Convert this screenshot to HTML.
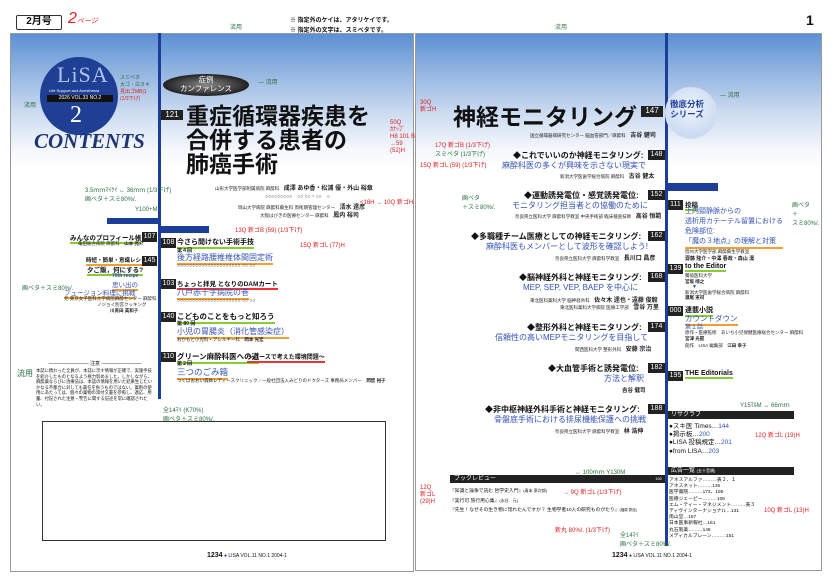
<!DOCTYPE html>
<html><head><meta charset="utf-8"><style>
*{margin:0;padding:0;box-sizing:border-box}
body{width:835px;height:580px;background:#fff;position:relative;overflow:hidden;font-family:"Liberation Sans","Noto Sans CJK JP",sans-serif;color:#111}
.a{position:absolute;white-space:nowrap}
.pg{position:absolute;border:1px solid #999;background:linear-gradient(#5b8fd4 0px,#8fb2e0 35px,#cddcf1 80px,#f4f7fc 115px,#fff 135px)}
.num{position:absolute;background:#222;color:#fff;font-size:7px;text-align:center;line-height:10px;height:10px}
.b{font-weight:bold}
.blue{color:#3452b8}
.red{color:#d22;font-size:6px}
.grn{color:#2a7040;font-size:6px}
.sm{font-size:4.5px;color:#222}
.ul-g{border-bottom:2px solid #8c3}
.ul-o{border-bottom:2px solid #f0a030}
.ul-r{border-bottom:2px solid #e33}
</style></head><body>
<div class="a b" style="left:16px;top:15px;width:46px;height:15px;border:1.5px solid #333;border-radius:2px;font-size:10px;text-align:center;line-height:12px">2月号</div>
<div class="a" style="left:68px;top:10px;font-size:16px;color:#d22;font-style:italic">2<span style="font-size:7px">ページ</span></div>
<div class="a b" style="left:290px;top:16px;font-size:6px;line-height:10px">※ 指定外のケイは、アタリケイです。<br>※ 指定外の文字は、スミベタです。</div>
<div class="a b" style="left:806px;top:12px;font-size:14px">1</div>

<div class="pg" style="left:10px;top:33px;width:404px;height:539px"></div>
<div class="pg" style="left:415px;top:33px;width:407px;height:538px"></div>

<!-- left page -->
<div class="a" style="left:158px;top:33px;width:3px;height:366px;background:#1c3e99"></div>
<div class="a" style="left:40px;top:57px;width:78px;height:78px;border-radius:50%;background:#1f3f95"></div>
<div class="a" style="left:57px;top:62px;font-size:22px;color:#aec4ea;font-family:'Liberation Serif',serif;letter-spacing:1px">LiSA</div>
<div class="a" style="left:49px;top:88px;font-size:4px;color:#fff">Life Support and Anesthesia</div>
<div class="a" style="left:47px;top:95px;width:66px;height:7px;background:#111;color:#fff;font-size:5px;text-align:center;line-height:7px">2026 VOL.33 NO.2</div>
<div class="a" style="left:70px;top:102px;font-size:24px;color:#fff;font-family:'Liberation Serif',serif">2</div>
<div class="a b" style="left:34px;top:129px;font-size:21px;color:#1f3470;font-style:italic;font-family:'Liberation Serif',serif">CONTENTS</div>
<div class="a" style="left:163px;top:74px;width:86px;height:22px;border-radius:50%;background:radial-gradient(#888,#222 70%);color:#fff;font-size:7.5px;text-align:center;line-height:8.5px;padding-top:2px">症例<br>カンファレンス</div>
<div class="num" style="left:161px;top:110px;width:22px;font-size:8px">121</div>
<div class="a b" style="left:186px;top:104px;font-size:23px;line-height:24px;letter-spacing:0px">重症循環器疾患を<br>合併する患者の<br>肺癌手術</div>
<div class="a sm" style="left:215px;top:183px">山形大学医学部附属病院 麻酔科　<b style="font-size:6px">成澤 あゆ香・松浦 優・外山 裕章</b></div>
<div class="a sm" style="left:265px;top:193px;font-size:5px">○○○○○○○○○　○○ ○○・○○　○</div>
<div class="a sm" style="left:238px;top:202px">岡山大学病院 麻酔科蘇生科 周術期管理センター　<b style="font-size:6px">清水 達彦</b></div>
<div class="a sm" style="left:260px;top:210px">大阪はびきの医療センター 麻酔科　<b style="font-size:6px">鳳内 裕司</b></div>
<div class="a" style="left:107px;top:218px;width:51px;height:6px;background:#1c3e99"></div>
<div class="a" style="left:160px;top:226px;width:49px;height:7px;background:#1c3e99"></div>

<div class="a b ul-g" style="left:70px;top:232px;font-size:6.5px">みんなのプロフィール帳</div>
<div class="num" style="left:142px;top:232px;width:15px">107</div>
<div class="a sm" style="left:78px;top:241px">亀田総合病院 麻酔科　<b>山本 亮介</b></div>
<div class="a b ul-o" style="left:86px;top:256px;font-size:5.5px">時短・簡単・意識レシピ</div>
<div class="num" style="left:142px;top:256px;width:15px">145</div>
<div class="a b ul-g" style="left:87px;top:264px;font-size:6.5px">夕ご飯，何にする?</div>
<div class="a b blue" style="left:112px;top:273px;font-size:5px">70th recipe</div>
<div class="a blue ul-o" style="left:112px;top:279px;font-size:6.5px">思い出の</div>
<div class="a blue ul-o" style="left:64px;top:287px;font-size:6.5px">フュージョン料理に挑戦</div>
<div class="a sm" style="left:64px;top:296px">元 東京女子医科大学病院麻酔センター 麻酔科</div>
<div class="a sm" style="left:97px;top:302px">ノジョイ別宮クッキング</div>
<div class="a sm b" style="left:110px;top:308px">川眞田 美和子</div>

<div class="num" style="left:161px;top:238px;width:15px">108</div>
<div class="a b ul-g" style="left:177px;top:237px;font-size:7px">今さら聞けない手術手技</div>
<div class="a sm b" style="left:177px;top:247px;font-size:5px">第４回</div>
<div class="a blue ul-o" style="left:177px;top:252px;font-size:8px">後方経路腰椎椎体間固定術</div>
<div class="a" style="left:177px;top:263px;font-size:5px">○○○○○○○○○○○○○○○○○○○○○ ○○ ○○</div>
<div class="num" style="left:161px;top:279px;width:15px">103</div>
<div class="a b ul-r" style="left:177px;top:278px;font-size:6.5px">ちょっと拝見 となりのDAMカート</div>
<div class="a blue ul-o" style="left:177px;top:287px;font-size:8px">八戸赤十字病院の巻</div>
<div class="a" style="left:177px;top:298px;font-size:5px">○○○○○○○○○○○○○○○○○○○○○ ○○ ○○</div>
<div class="num" style="left:161px;top:312px;width:15px">140</div>
<div class="a b ul-g" style="left:177px;top:311px;font-size:7.5px">こどものことをもっと知ろう</div>
<div class="a sm b" style="left:177px;top:320px;font-size:5px">第 80 回</div>
<div class="a blue ul-o" style="left:177px;top:326px;font-size:8px">小児の胃腸炎（消化管感染症）</div>
<div class="a sm" style="left:177px;top:337px">おかもと小児科・アレルギー科　<b>岡本 光宏</b></div>
<div class="num" style="left:161px;top:352px;width:15px">110</div>
<div class="a b ul-g" style="left:177px;top:351px;font-size:7.5px">グリーン麻酔科医への道</div>
<div class="a b ul-r" style="left:247px;top:352px;font-size:6px">～パースで考えた環境問題～</div>
<div class="a sm b" style="left:177px;top:360px;font-size:5px">第２回</div>
<div class="a blue ul-o" style="left:177px;top:366px;font-size:8.5px">三つのごみ箱</div>
<div class="a sm" style="left:177px;top:378px">つくばおおい森鉢レディースクリニック／一般社団法人みどりのドクターズ 事務局メンバー　<b>岡留 裕子</b></div>

<div class="a" style="left:37px;top:360px;width:116px;text-align:center;font-size:5px">―――――――― 注意 ――――――――</div>
<div class="a" style="left:36px;top:368px;width:117px;white-space:normal;font-size:4.3px;line-height:5.6px">本誌に携わった全員が、本誌に示す情報が正確で、実施手技を紹介したものとなるよう極力努めました。しかしながら、麻酔薬ならびに治療法は、本誌の情報を用いた結果生じたいかなる不都合に対しても責任を負うものではない。薬剤の使用にあたっては、個々の薬物の添付文書を参照し、適応、用量、付記された注意・警告に関する記述を常に確認されたい。</div>

<div class="a" style="left:42px;top:421px;width:344px;height:120px;border:1.5px solid #333"></div>
<div class="a" style="left:207px;top:552px;font-size:5px"><b style="font-size:7px">1234</b> <span style="color:#1c3e99">●</span> LISA VOL.11 NO.1 2004-1</div>

<!-- right page -->
<div class="a" style="left:665px;top:33px;width:3px;height:513px;background:#1c3e99"></div>
<div class="a b" style="left:453px;top:98px;font-size:23px;letter-spacing:0px">神経モニタリング</div>
<div class="num" style="left:641px;top:106px;width:22px;font-size:8px;height:11px">147</div>
<div class="a" style="left:665px;top:87px;width:52px;height:52px;border-radius:50%;background:radial-gradient(circle at 50% 40%,#eef4fc,#bcd2ee);border:1px solid #dde"></div>
<div class="a b blue" style="left:670px;top:99px;font-size:8.5px;line-height:10px;text-align:center;color:#2440a0">徹底分析<br>シリーズ</div>
<div class="a sm" style="left:530px;top:130px">国立循環器病研究センター 脳血管部門／麻酔科　<b style="font-size:6px">吉谷 健司</b></div>

<div class="a b" style="left:513px;top:150px;font-size:8px">◆これでいいのか神経モニタリング:</div>
<div class="num" style="left:648px;top:150px;width:17px">148</div>
<div class="a blue" style="left:502px;top:160px;font-size:8px">麻酔科医の多くが興味を示さない現実で</div>
<div class="a sm" style="left:560px;top:171px">新潟大学医歯学総合病院 麻酔科　<b style="font-size:6px">古谷 健太</b></div>
<div class="a b" style="left:524px;top:190px;font-size:8px">◆運動誘発電位・感覚誘発電位:</div>
<div class="num" style="left:648px;top:190px;width:17px">152</div>
<div class="a blue" style="left:512px;top:200px;font-size:8px">モニタリング担当者との協働のために</div>
<div class="a sm" style="left:515px;top:211px">奈良県立医科大学 麻酔科学教室 中央手術部 臨床検査技師　<b style="font-size:6px">高谷 恒範</b></div>
<div class="a b" style="left:471px;top:231px;font-size:8px">◆多職種チーム医療としての神経モニタリング:</div>
<div class="num" style="left:648px;top:231px;width:17px">162</div>
<div class="a blue" style="left:486px;top:241px;font-size:8px">麻酔科医もメンバーとして波形を確認しよう!</div>
<div class="a sm" style="left:555px;top:253px">奈良県立医科大学 麻酔科学教室　<b style="font-size:6px">長川口 昌彦</b></div>
<div class="a b" style="left:519px;top:272px;font-size:8px">◆脳神経外科と神経モニタリング:</div>
<div class="num" style="left:648px;top:272px;width:17px">168</div>
<div class="a blue" style="left:523px;top:282px;font-size:8px">MEP, SEP, VEP, BAEP を中心に</div>
<div class="a sm" style="left:530px;top:295px">東北医科薬科大学 脳神経外科　<b style="font-size:6px">佐々木 達也・遠藤 俊毅</b></div>
<div class="a sm" style="left:560px;top:302px">東北医科薬科大学病院 医療工学部　<b style="font-size:6px">雪谷 万里</b></div>
<div class="a b" style="left:527px;top:322px;font-size:8px">◆整形外科と神経モニタリング:</div>
<div class="num" style="left:648px;top:322px;width:17px">174</div>
<div class="a blue" style="left:495px;top:332px;font-size:8px">信頼性の高いMEPモニタリングを目指して</div>
<div class="a sm" style="left:575px;top:344px">関西医科大学 整形外科　<b style="font-size:6px">安藤 宗治</b></div>
<div class="a b" style="left:548px;top:363px;font-size:8px">◆大血管手術と誘発電位:</div>
<div class="num" style="left:648px;top:363px;width:17px">182</div>
<div class="a blue" style="left:604px;top:373px;font-size:8px">方法と解釈</div>
<div class="a sm b" style="left:622px;top:386px;font-size:5.5px">吉谷 健司</div>
<div class="a b" style="left:485px;top:404px;font-size:8px">◆非中枢神経外科手術と神経モニタリング:</div>
<div class="num" style="left:648px;top:404px;width:17px">188</div>
<div class="a blue" style="left:494px;top:414px;font-size:8px">骨盤底手術における排尿機能保護への挑戦</div>
<div class="a sm" style="left:555px;top:426px">奈良県立医科大学 麻酔科学教室　<b style="font-size:6px">林 浩伸</b></div>

<div class="a" style="left:668px;top:183px;width:50px;height:8px;background:#1c3e99"></div>
<div class="num" style="left:668px;top:200px;width:15px">111</div>
<div class="a b ul-g" style="left:685px;top:199px;font-size:6.5px">投稿</div>
<div class="a blue ul-o" style="left:685px;top:207px;font-size:7px;line-height:10px">上内頸静脈からの<br>透析用カテーテル留置における<br>危険部位:<br>「魔の３地点」の理解と対策</div>
<div class="a sm" style="left:685px;top:249px">信州大学医学部 麻酔蘇生学教室</div>
<div class="a sm b" style="left:685px;top:255px;font-size:5px">齋藤 隆介・中澤 春政・森山 潔</div>
<div class="num" style="left:668px;top:264px;width:15px">139</div>
<div class="a b ul-g" style="left:685px;top:263px;font-size:7px">to the Editor</div>
<div class="a sm" style="left:685px;top:273px">獨協医科大学</div>
<div class="a sm b" style="left:685px;top:279px">宮坂 晴之</div>
<div class="a" style="left:692px;top:284px;font-size:5px;color:#2440a0">▼</div>
<div class="a sm" style="left:685px;top:290px">新潟大学医歯学総合病院 麻酔科</div>
<div class="a sm b" style="left:685px;top:295px">瀬尾 憲司</div>
<div class="num" style="left:668px;top:306px;width:15px">000</div>
<div class="a b ul-g" style="left:685px;top:305px;font-size:7px">連載小説</div>
<div class="a blue ul-o" style="left:685px;top:313px;font-size:7.5px">カウントダウン</div>
<div class="a blue" style="left:685px;top:322px;font-size:6px">第１話</div>
<div class="a sm" style="left:685px;top:330px">原作・医療監修　あいち小児保健医療総合センター 麻酔科</div>
<div class="a sm b" style="left:685px;top:336px">宮津 光範</div>
<div class="a sm" style="left:685px;top:343px">創作　LISA 編集部　<b>江田 幸子</b></div>
<div class="num" style="left:668px;top:371px;width:15px">195</div>
<div class="a b ul-g" style="left:685px;top:370px;font-size:7px">THE Editorials</div>

<div class="a" style="left:668px;top:411px;width:126px;height:8px;background:#222;color:#fff;font-size:6px;line-height:8px;padding-left:3px">リサクラブ</div>
<div class="a" style="left:669px;top:423px;font-size:6.5px;line-height:8.2px">●スキ医 Times…<span class="blue">144</span><br>●掲示板…<span class="blue">200</span><br>●LISA 投稿規定…<span class="blue">201</span><br>●from LISA…<span class="blue">203</span></div>
<div class="a" style="left:668px;top:467px;width:126px;height:8px;background:#222;color:#fff;font-size:6px;line-height:8px;padding-left:3px">広告一覧 <span style="font-size:4px">(五十音順)</span></div>
<div class="a" style="left:669px;top:478px;font-size:4.8px;line-height:6.2px">アネスアルファ………表２、１<br>アネスネット………135<br>医学書院………173、195<br>医療ジェーピー………106<br>エム・ティー・マネジメント………表３<br>ディヴインターナショナル…131<br>南山堂…167<br>日本医事新報社…161<br>丸石製薬………148<br>メディカルブレーン………151</div>

<div class="a" style="left:450px;top:475px;width:215px;height:8px;background:#222;color:#fff;font-size:6px;line-height:8px;padding-left:4px">ブックレビュー<span style="position:absolute;right:3px;font-size:4px">192</span></div>
<div class="a" style="left:450px;top:486px;font-size:4.8px;line-height:9px">『知識と論争で読む 哲学史入門』<span style="font-size:4px">(青本 泰次郎)</span><br>『実行可 旅行用心集』<span style="font-size:4px">(水谷　元)</span><br>『先生！なぜその生き物に惚れたんですか？ 生物学者10人の研究ものがたり』<span style="font-size:3.5px">(福原 秀浩)</span></div>
<div class="a" style="left:612px;top:552px;font-size:5px"><b style="font-size:7px">1234</b> <span style="color:#1c3e99">●</span> LISA VOL.11 NO.1 2004-1</div>

<!-- annotations -->
<div class="a grn" style="left:230px;top:22px">流用</div>
<div class="a grn" style="left:555px;top:22px">流用</div>
<div class="a grn" style="left:258px;top:77px">― 流用</div>
<div class="a grn" style="left:720px;top:90px">― 流用</div>
<div class="a grn" style="left:24px;top:100px">流用</div>
<div class="a" style="left:120px;top:75px;font-size:5px;line-height:7px;color:#2a7040">スミベタ<br>太ゴ・白ヌキ<br><span style="color:#d22">見出ゴMB|1<br>(1/3下げ)</span></div>
<div class="a red" style="left:390px;top:120px;line-height:7px">50Q<br>ｶﾅｯﾌﾟ<br>H8 101 B<br>→59<br>(52)H</div>
<div class="a red" style="left:420px;top:100px;line-height:7px">30Q<br>新ゴH</div>
<div class="a grn" style="left:85px;top:185px">3.5ｍｍﾏｲｹｲ ↔ 36ｍｍ (1/3下げ)<br>画ベタ＋スミ80%/.</div>
<div class="a grn" style="left:135px;top:207px">Y100+M</div>
<div class="a grn" style="left:22px;top:283px">画ベタ＋スミ80%/.</div>
<div class="a grn" style="left:17px;top:368px;font-size:8px">流用</div>
<div class="a grn" style="left:163px;top:405px">全14ﾏｲ (K70%)<br>画ベタ＋スミ80%/.</div>
<div class="a red" style="left:360px;top:197px">&lt;16H → 10Q 新ゴH</div>
<div class="a red" style="left:235px;top:225px">13Q 新ゴB (59) (1/3下げ)</div>
<div class="a red" style="left:300px;top:240px">15Q 新ゴL (77)H</div>
<div class="a red" style="left:435px;top:140px">17Q 新ゴB (1/3下げ)<br><span style="color:#2a7040">スミベタ (1/3下げ)</span></div>
<div class="a red" style="left:420px;top:160px">15Q 新ゴL (59) (1/3下げ)</div>
<div class="a grn" style="left:462px;top:193px">画ベタ<br>＋スミ80%/.</div>
<div class="a grn" style="left:792px;top:200px">画ベタ<br>＋<br>スミ80%/.</div>
<div class="a red" style="left:755px;top:430px">12Q 新ゴL (19)H</div>
<div class="a red" style="left:764px;top:505px">10Q 新ゴL (13)H</div>
<div class="a red" style="left:420px;top:485px;line-height:7px">12Q<br>新ゴL<br>(29)H</div>
<div class="a red" style="left:563px;top:487px">→ 9Q 新ゴL (1/3下げ)</div>
<div class="a red" style="left:555px;top:525px">新丸 80%/. (1/3下げ)</div>
<div class="a grn" style="left:620px;top:530px">全14ﾏｲ<br>画ベタ＋スミ80%/.</div>
<div class="a grn" style="left:740px;top:400px">Y15ﾏﾙM ↔ 66ｍｍ</div>
<div class="a grn" style="left:575px;top:467px">↔ 100ｍｍ Y130M</div>
</body></html>
